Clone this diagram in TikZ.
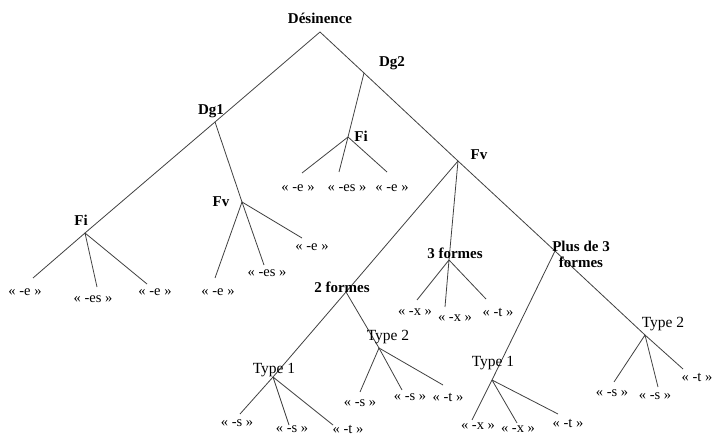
\documentclass[tikz,border=0pt]{standalone}
\usepackage{fontspec}
\setmainfont{Liberation Serif}
\usepackage{tikz}
\usetikzlibrary{calc}

\tikzset{
	catlabel/.style={inner sep=0pt, font=\fontsize{15}{16}\selectfont\bfseries},
	typelabel/.style={inner sep=0pt, font=\fontsize{15.5}{16}\selectfont},
	endlabel/.style={inner sep=0pt, font=\fontsize{14.5}{15}\selectfont},
	branch/.style={draw=black!75, line width=0.8pt}
}

\begin{document}
\begin{tikzpicture}[x=1pt, y=-1pt]
		\useasboundingbox (0,0) rectangle (714,435);

		\begin{scope}
			\coordinate (des) at (320,32);
			\coordinate (dgA) at (215,122);
			\coordinate (fiA) at (85,233);
			\coordinate (fvA) at (242,202);
			\coordinate (dgB) at (364,73);
			\coordinate (fiB) at (348,137);
			\coordinate (fvB) at (458,161);
			\coordinate (deux) at (346,292);
			\coordinate (trois) at (449,260);
			\coordinate (plus) at (555,251);
			\coordinate (tyA) at (273,377);
			\coordinate (tyB) at (379,348);
			\coordinate (tyC) at (492,380);
			\coordinate (tyD) at (645,335);
		\end{scope}

		\begin{scope}
			\coordinate (fiA1) at (33,278);
			\coordinate (fiA2) at (97,287);
			\coordinate (fiA3) at (147,284);
			\coordinate (fvA1) at (215,278);
			\coordinate (fvA2) at (264,265);
			\coordinate (fvA3) at (302,238);
			\coordinate (fiB1) at (302,173);
			\coordinate (fiB2) at (339,172);
			\coordinate (fiB3) at (387,172);
			\coordinate (trois1) at (417,300);
			\coordinate (trois2) at (445,307);
			\coordinate (trois3) at (486,299);
			\coordinate (tyA1) at (240,414);
			\coordinate (tyA2) at (289,425);
			\coordinate (tyA3) at (333,425);
			\coordinate (tyB1) at (360,392);
			\coordinate (tyB2) at (402,390);
			\coordinate (tyB3) at (443,385);
			\coordinate (tyC1) at (472,420);
			\coordinate (tyC2) at (517,423);
			\coordinate (tyC3) at (558,414);
			\coordinate (tyD1) at (614,382);
			\coordinate (tyD2) at (658,387);
			\coordinate (tyD3) at (683,369);
		\end{scope}

		\begin{scope}[branch]
			\draw (des) -- (dgA) -- (fiA);
			\draw (des) -- (dgB) -- (fvB) -- (plus) -- (tyD) -- (tyD3);
			\draw (dgA) -- (fvA) -- (fvA2);
			\draw (dgB) -- (fiB) -- (fiB2);
			\draw (fvB) -- (deux) -- (tyA) -- (tyA1);
			\draw (fvB) -- (trois) -- (trois2);
			\draw (deux) -- (tyB) -- (tyB2);
			\draw (plus) -- (tyC) -- (tyC1);
			\draw (fiA) -- (fiA1) (fiA) -- (fiA2) (fiA) -- (fiA3);
			\draw (fvA) -- (fvA1) (fvA) -- (fvA3);
			\draw (fiB) -- (fiB1) (fiB) -- (fiB3);
			\draw (trois) -- (trois1) (trois) -- (trois3);
			\draw (tyA) -- (tyA2) (tyA) -- (tyA3);
			\draw (tyB) -- (tyB1) (tyB) -- (tyB3);
			\draw (tyC) -- (tyC2) (tyC) -- (tyC3);
			\draw (tyD) -- (tyD1) (tyD) -- (tyD2);
		\end{scope}

		\begin{scope}
			\node [catlabel] (l-des) at (320,18) {Désinence};
			\node [catlabel] (l-dgA) at (211,111) {Dg1};
			\node [catlabel] (l-dgB) at (392,63) {Dg2};
			\node [catlabel] (l-fiA) at (81,220) {Fi};
			\node [catlabel] (l-fvA) at (221,202) {Fv};
			\node [catlabel] (l-fiB) at (361,136) {Fi};
			\node [catlabel] (l-fvB) at (479,155) {Fv};
			\node [catlabel] (l-deux) at (342,287) {2 formes};
			\node [catlabel] (l-trois) at (455,253) {3 formes};
			\node [catlabel, align=center] (l-plus) at (581,254) {Plus de 3\\formes};
			\node [typelabel] (l-tyA) at (274,370) {Type 1};
			\node [typelabel] (l-tyB) at (388,337) {Type 2};
			\node [typelabel] (l-tyC) at (493,363) {Type 1};
			\node [typelabel] (l-tyD) at (663,324) {Type 2};
		\end{scope}

		\begin{scope}
			\node [endlabel] (e-fiA1) at (25,292) {« -e »};
			\node [endlabel] (e-fiA2) at (93,299) {« -es »};
			\node [endlabel] (e-fiA3) at (155,292) {« -e »};
			\node [endlabel] (e-fvA1) at (218,292) {« -e »};
			\node [endlabel] (e-fvA2) at (267,273) {« -es »};
			\node [endlabel] (e-fvA3) at (312,247) {« -e »};
			\node [endlabel] (e-fiB1) at (298,188) {« -e »};
			\node [endlabel] (e-fiB2) at (347,188) {« -es »};
			\node [endlabel] (e-fiB3) at (392,188) {« -e »};
			\node [endlabel] (e-trois1) at (415,312) {« -x »};
			\node [endlabel] (e-trois2) at (455,318) {« -x »};
			\node [endlabel] (e-trois3) at (498,312) {« -t »};
			\node [endlabel] (e-tyA1) at (237,423) {« -s »};
			\node [endlabel] (e-tyA2) at (292,429) {« -s »};
			\node [endlabel] (e-tyA3) at (348,429) {« -t »};
			\node [endlabel] (e-tyB1) at (360,403) {« -s »};
			\node [endlabel] (e-tyB2) at (410,397) {« -s »};
			\node [endlabel] (e-tyB3) at (448,397) {« -t »};
			\node [endlabel] (e-tyC1) at (478,426) {« -x »};
			\node [endlabel] (e-tyC2) at (518,429) {« -x »};
			\node [endlabel] (e-tyC3) at (568,423) {« -t »};
			\node [endlabel] (e-tyD1) at (612,393) {« -s »};
			\node [endlabel] (e-tyD2) at (655,396) {« -s »};
			\node [endlabel] (e-tyD3) at (697,377) {« -t »};
		\end{scope}
	\end{tikzpicture}
\end{document}
